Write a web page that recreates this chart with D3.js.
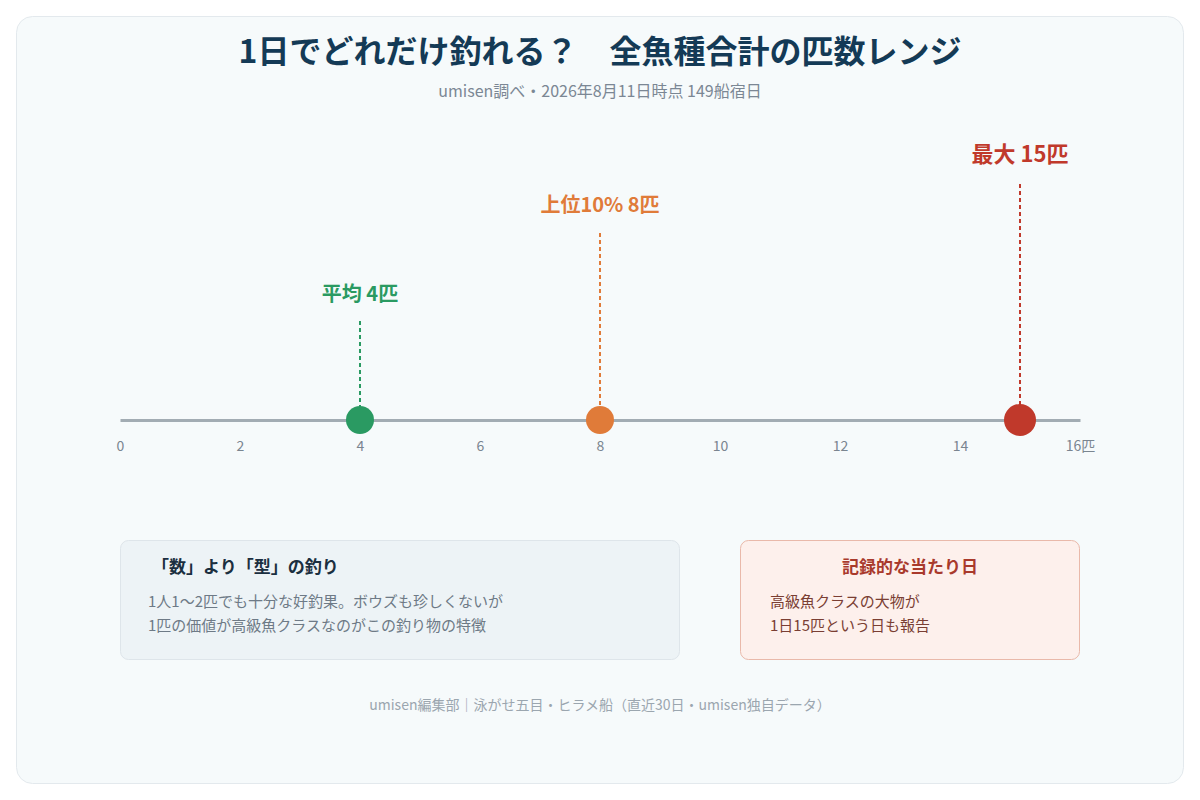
<!doctype html>
<html>
<head>
  <meta charset="utf-8">
  <style>
    html, body { margin:0; padding:0; background:#ffffff; }
    body { font-family:"Noto Sans CJK JP", "Noto Sans", sans-serif; }
    svg text { font-family:"Noto Sans CJK JP", "Noto Sans", sans-serif; }
  </style>
  <script src="https://cdn.jsdelivr.net/npm/d3@7/dist/d3.min.js"></script>
</head>
<body>
  <script type="text/javascript">
    // data
    var markerKeys = ["avg", "top10", "max"];
    var markerValues = [4, 8, 15];
    var markerLabels = ["平均 4匹", "上位10% 8匹", "最大 15匹"];
    var tickValues = [0, 2, 4, 6, 8, 10, 12, 14, 16];
    var unit = "匹";

    var title = "1日でどれだけ釣れる？　全魚種合計の匹数レンジ";
    var subtitle = "umisen調べ・2026年8月11日時点 149船宿日";
    var noteLeftTitle = "「数」より「型」の釣り";
    var noteLeftLines = ["1人1〜2匹でも十分な好釣果。ボウズも珍しくないが",
                         "1匹の価値が高級魚クラスなのがこの釣り物の特徴"];
    var noteRightTitle = "記録的な当たり日";
    var noteRightLines = ["高級魚クラスの大物が", "1日15匹という日も報告"];
    var footer = "umisen編集部｜泳がせ五目・ヒラメ船（直近30日・umisen独自データ）";

    // styles
    var color = d3.scaleOrdinal()
      .domain(markerKeys)
      .range(["#2a9a62", "#e07b39", "#c0392b"]);
    var labelY = { avg: 301, top10: 212, max: 162 };
    var lineTop = { avg: 321, top10: 233, max: 184 };
    var radius = { avg: 14, top10: 14, max: 16 };
    var labelSize = { avg: 20, top10: 20, max: 22 };

    var svg = d3.select("body")
      .append("svg")
        .attr("width", 1200)
        .attr("height", 800);

    // card
    svg.append("rect")
      .attr("x", 16.5).attr("y", 16.5)
      .attr("width", 1167).attr("height", 767)
      .attr("rx", 16)
      .attr("fill", "#f6fafb")
      .attr("stroke", "#e3e9ed");

    svg.append("text")
      .attr("x", 600).attr("y", 63)
      .attr("text-anchor", "middle")
      .attr("font-size", 32)
      .attr("font-weight", "bold")
      .attr("fill", "#143a56")
      .text(title);

    svg.append("text")
      .attr("x", 600).attr("y", 97)
      .attr("text-anchor", "middle")
      .attr("font-size", 16)
      .attr("fill", "#7b8794")
      .text(subtitle);

    // axis
    var x = d3.scaleLinear().domain([0, 16]).range([120, 1080]);
    var axisY = 420;

    var axis = svg.append("g")
      .attr("transform", "translate(0," + axisY + ")")
      .call(d3.axisBottom(x)
        .tickValues(tickValues)
        .tickSize(0)
        .tickPadding(21)
        .tickFormat(function(d) { return d === 16 ? d + unit : d; }));

    axis.select(".domain")
      .attr("stroke", "#a2acb3")
      .attr("stroke-width", 3);
    axis.selectAll(".tick text")
      .attr("font-size", 14)
      .attr("fill", "#7a8590")
      .style("font-family", "'Noto Sans CJK JP', 'Noto Sans', sans-serif");

    // markers
    var markers = markerKeys.map(function(k, i) {
      return { key:k, value:markerValues[i], label:markerLabels[i] };
    });

    var m = svg.selectAll("g.marker")
      .data(markers)
      .enter().append("g")
        .attr("class", "marker");

    m.append("line")
      .attr("x1", function(d) { return x(d.value); })
      .attr("x2", function(d) { return x(d.value); })
      .attr("y1", function(d) { return lineTop[d.key]; })
      .attr("y2", axisY)
      .attr("stroke", function(d) { return color(d.key); })
      .attr("stroke-width", 2)
      .attr("stroke-dasharray", "4,3");

    m.append("circle")
      .attr("cx", function(d) { return x(d.value); })
      .attr("cy", axisY)
      .attr("r", function(d) { return radius[d.key]; })
      .attr("fill", function(d) { return color(d.key); });

    m.append("text")
      .attr("x", function(d) { return x(d.value); })
      .attr("y", function(d) { return labelY[d.key]; })
      .attr("text-anchor", "middle")
      .attr("font-size", function(d) { return labelSize[d.key]; })
      .attr("font-weight", "bold")
      .attr("fill", function(d) { return color(d.key); })
      .text(function(d) { return d.label; });

    // note boxes
    svg.append("rect")
      .attr("x", 120.5).attr("y", 540.5)
      .attr("width", 559).attr("height", 119)
      .attr("rx", 8)
      .attr("fill", "#edf3f6")
      .attr("stroke", "#dee5ea");

    svg.append("text")
      .attr("x", 152).attr("y", 573)
      .attr("font-size", 17)
      .attr("font-weight", "bold")
      .attr("fill", "#1b2f40")
      .text(noteLeftTitle);

    svg.selectAll("text.noteL")
      .data(noteLeftLines)
      .enter().append("text")
        .attr("class", "noteL")
        .attr("x", 148)
        .attr("y", function(d, i) { return 607 + i * 24; })
        .attr("font-size", 15)
        .attr("fill", "#6e7a86")
        .text(function(d) { return d; });

    svg.append("rect")
      .attr("x", 740.5).attr("y", 540.5)
      .attr("width", 339).attr("height", 119)
      .attr("rx", 8)
      .attr("fill", "#fdf0ec")
      .attr("stroke", "#e9b9aa");

    svg.append("text")
      .attr("x", 910).attr("y", 573)
      .attr("text-anchor", "middle")
      .attr("font-size", 17)
      .attr("font-weight", "bold")
      .attr("fill", "#a93a2c")
      .text(noteRightTitle);

    svg.selectAll("text.noteR")
      .data(noteRightLines)
      .enter().append("text")
        .attr("class", "noteR")
        .attr("x", 770)
        .attr("y", function(d, i) { return 607 + i * 24; })
        .attr("font-size", 15)
        .attr("fill", "#7a3e33")
        .text(function(d) { return d; });

    svg.append("text")
      .attr("x", 600).attr("y", 710)
      .attr("text-anchor", "middle")
      .attr("font-size", 14)
      .attr("fill", "#9ba6af")
      .text(footer);
  </script>
</body>
</html>
